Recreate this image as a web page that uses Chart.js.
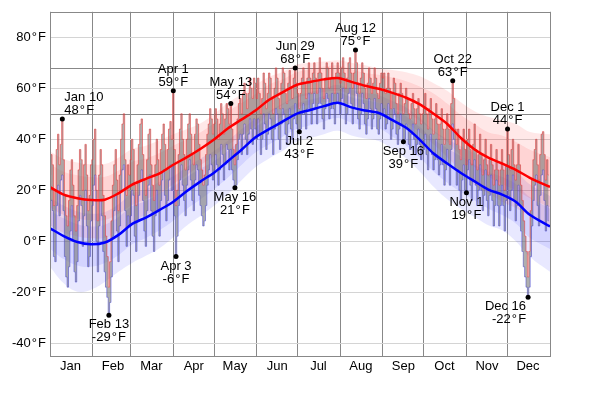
<!DOCTYPE html>
<html>
<head>
<meta charset="utf-8">
<script src="https://cdn.jsdelivr.net/npm/chart.js@4"></script>
<style>
  body { margin: 0; background: #fff; }
</style>
</head>
<body>
<canvas id="myChart" width="600" height="394"></canvas>
<script>
// month boundaries (day of year, Jan 1 = 0) and names
const monthStarts = [0, 31, 59, 90, 120, 151, 181, 212, 243, 273, 304, 334, 365];
const monthNames = ["Jan", "Feb", "Mar", "Apr", "May", "Jun", "Jul", "Aug", "Sep", "Oct", "Nov", "Dec"];
const yTicks = [-40, -20, 0, 20, 40, 60, 80];

// daily observed highs / lows (°F), one row per month
const dailyHigh = [
  26,34,30,14,20,36,42,30,38,48,32,18,10,6,16,28,32,22,10,4,14,28,36,32,20,30,38,26,12,18,30,
  32,40,44,20,8,26,36,30,18,10,2,-6,-18,-8,8,22,30,36,24,12,26,40,46,50,32,18,30,26,
  32,40,36,22,14,30,38,46,48,34,24,18,32,42,44,30,22,16,30,40,32,22,36,42,46,38,28,36,44,47,40,
  59,36,14,20,34,44,50,40,34,28,40,46,50,42,34,30,42,48,46,38,32,28,22,26,34,42,46,52,48,42,
  46,52,48,40,46,54,50,42,48,54,52,46,54,44,36,30,38,48,54,56,50,58,62,58,52,58,64,60,56,64,62,
  56,64,58,50,56,66,62,52,58,66,64,56,50,60,68,64,56,52,62,68,66,58,54,62,67,60,56,64,68,62,
  58,52,58,64,68,62,56,64,70,64,58,66,70,64,58,66,72,66,60,56,64,70,68,60,64,70,64,58,66,70,66,
  62,68,72,66,60,64,70,72,66,60,66,75,70,62,58,64,70,66,60,56,62,68,64,58,62,68,64,58,56,62,66,
  64,66,58,60,66,60,52,58,64,62,54,50,58,62,58,50,54,60,56,50,48,54,58,52,46,52,56,50,46,50,
  52,58,50,44,52,56,48,42,48,54,46,40,46,52,44,38,44,50,44,38,54,63,56,44,38,44,36,32,40,44,36,
  30,40,44,36,30,38,46,36,28,34,42,34,26,32,40,30,26,32,38,30,22,28,36,28,22,28,36,28,20,30,
  44,34,28,36,40,30,24,30,38,30,22,16,8,2,-4,-14,-4,12,24,32,36,40,30,24,34,42,43,34,24,32,26
];
const dailyLow = [
  6,16,12,-6,-8,14,22,10,24,26,12,-6,-14,-18,-10,4,14,0,-12,-16,-8,8,18,14,-2,10,20,6,-10,-6,8,
  14,22,26,0,-12,6,16,10,-4,-12,-18,-22,-29,-24,-14,2,12,18,4,-8,6,20,28,30,12,-2,10,6,
  10,20,18,2,-4,8,18,24,28,16,4,-2,12,22,26,12,2,-4,10,20,12,2,16,24,28,18,8,16,24,30,20,
  30,10,-6,2,14,24,30,22,16,10,22,28,32,24,16,12,24,30,28,18,14,10,6,8,14,22,28,34,30,24,
  28,34,30,22,28,38,34,24,30,38,36,28,36,28,24,21,22,32,40,42,34,42,46,40,34,42,48,44,38,48,44,
  40,48,42,34,40,50,46,36,42,50,48,40,34,44,52,50,40,36,46,52,50,42,38,46,52,44,40,48,54,46,
  44,43,44,50,54,50,44,52,58,52,46,54,58,52,46,54,60,54,48,44,52,58,56,48,52,58,52,46,54,58,54,
  50,56,60,54,46,50,58,60,54,46,52,62,58,48,44,50,58,54,46,42,48,56,52,44,48,56,52,44,42,48,54,
  50,52,44,46,54,48,40,44,52,50,42,38,44,50,46,39,40,46,44,38,36,42,46,40,34,38,44,38,32,36,
  36,42,34,28,36,42,34,28,32,40,32,26,30,38,30,22,28,36,30,22,36,46,40,28,22,28,20,16,24,30,20,
  19,28,32,22,16,24,32,22,14,20,30,20,12,18,28,16,10,18,26,16,6,14,24,14,6,14,22,14,4,16,
  26,18,12,20,26,16,8,14,22,14,4,-4,-10,-14,-18,-22,-18,-6,6,16,22,26,14,6,18,26,28,16,4,14,8
];

// normals, sampled every 10 days
const normDays = [0,10,20,30,40,50,60,70,80,90,100,110,120,130,140,150,160,170,180,190,200,210,220,230,240,250,260,270,280,290,300,310,320,330,340,350,365];
const avgHigh = [21.2,18.3,16.9,16.2,16.3,18.8,22.2,24.5,26.6,30,33,36.3,40,44.3,47.8,51.3,55.5,58.5,61.3,62.5,63.5,64,62.5,61,59.8,58.2,56.3,53.7,50,46,40.5,36,32.8,30.5,28,25,21.3];
const avgLow = [5.1,2,-0.3,-1.2,-0.5,2.5,6.8,9.3,12.3,15.5,19.7,23.5,27,31.5,36,40.8,44,47,50,51.5,53,54.3,52.5,51.3,50.3,47.5,44.5,39.8,34.4,30.5,26.8,23.5,20.3,18.3,15.5,10.5,5.8];

// percentile bands (°F)
const hi90 = [35.2,32.3,30.9,30.2,30.3,32.8,36.2,37.5,39.6,42,44,46.3,50,54.3,57.8,61.3,64.5,66.5,69.3,70,70.5,71,70,69,67.8,67.2,66.3,64.7,62,59,54.5,51,48.8,47.5,46,43,42];
const hi75 = [30.2,27.3,25.9,25.2,25.3,27.8,31.2,32.5,34.6,37.5,40,42.8,46.5,50.8,54.3,57.8,61.5,63.5,66.3,67.5,68.5,69,67.5,66,65.3,64.2,62.8,60.7,58,54,49.5,46,42.8,41.5,39,36,33];
const hi25 = [13.2,10.3,8.9,8.2,8.3,10.8,14.2,16.5,18.6,22.5,26,29.8,33.5,37.8,41.3,45.3,50,53.5,56.3,57.5,58.5,59,57.5,56,54.3,52.2,50.3,47.2,43,39,33.5,29,25.3,22.5,20,17,13.3];
const hi10 = [6.2,3.3,1.9,1.2,1.3,3.8,7.2,10.5,12.6,16.5,20,24.3,28,32.3,36.8,41.3,45.5,49,52.3,53.5,54.5,55,53.5,52,50.8,49.2,46.3,42.7,38,33,27.5,22,18.8,15.5,13,10,6.3];
const lo90 = [17.1,14,11.7,10.8,11.5,14.5,18.8,20.3,23.3,25.5,29.2,32.5,35.5,39.5,44,48,51,54,57,58.5,60,61.3,59.5,58.3,57.3,55,52.5,48.3,43.4,40,37.3,34.5,31.8,30.3,27.5,22.5,17.8];
const lo75 = [12.1,9,6.7,5.8,6.5,9.5,13.8,15.8,18.8,21.5,25.2,28.5,31.5,35.5,40,44.8,48,51,54,55.5,57,58.3,56.5,55.3,54.3,52,49,44.8,40,36.5,33.3,30,27.3,25.3,22.5,17.5,12.8];
const lo25 = [-2.9,-7,-9.5,-10,-8.5,-5.5,-1.2,1.3,4.3,8,12.7,16.5,20.5,25,30,34.8,38,41,44,45.5,47,48.3,46.5,45.3,44.3,41,37.5,32.8,27.4,23,19.3,16,12.8,10.3,7,1.5,-3];
const lo10 = [-10,-16.5,-19.8,-19,-16,-12,-8.5,-5.7,-2.7,1.5,6.2,10,14,18.5,24,29,32.5,35.5,39,40.5,42,43.3,41.5,40.3,39.3,36,32.5,27.3,21.4,16.5,12.8,9.5,6.3,4.3,0,-6,-12];

// labelled extremes
const annDays = [9, 43, 90, 92, 132, 135, 179, 182, 223, 258, 294, 304, 334, 349];
const annTemps = [48, -29, 59, -6, 54, 21, 68, 43, 75, 39, 63, 19, 44, -22];
const annDates = ["Jan 10", "Feb 13", "Apr 1", "Apr 3", "May 13", "May 16", "Jun 29", "Jul 2", "Aug 12", "Sep 16", "Oct 22", "Nov 1", "Dec 1", "Dec 16"];
const annAbove = [true, false, true, false, true, false, true, false, true, false, true, false, true, false];

const FONT = '"Liberation Sans", Arial, sans-serif';
const DEG = "\u200A°\u200AF";
Chart.defaults.font.family = FONT;
Chart.defaults.font.size = 13;
Chart.defaults.color = "#000";

const pts = (xs, ys) => ys.map((v, i) => ({x: xs[i], y: v}));
const days = dailyHigh.map((v, i) => i);

function band(data, color, fill, order) {
  return {
    type: "line", data: pts(normDays, data), borderWidth: 0, pointRadius: 0,
    tension: 0.4, fill: fill, backgroundColor: color, order: order
  };
}

// extra dark lines, frame and the labels
const extras = {
  id: "extras",
  beforeDatasetsDraw(chart) {
    const {ctx, chartArea: a, scales: {y}} = chart;
    ctx.save();
    ctx.strokeStyle = "#888";
    ctx.lineWidth = 1;
    [50, 68].forEach(v => {
      const py = Math.round(y.getPixelForValue(v)) + 0.5;
      ctx.beginPath(); ctx.moveTo(a.left, py); ctx.lineTo(a.right, py); ctx.stroke();
    });
    ctx.restore();
  },
  afterDatasetsDraw(chart) {
    const {ctx, chartArea: a, scales: {x, y}} = chart;
    ctx.save();
    ctx.strokeStyle = "#888";
    ctx.lineWidth = 1;
    ctx.strokeRect(Math.round(a.left) + 0.5, Math.round(a.top) + 0.5, Math.round(a.right - a.left), Math.round(a.bottom - a.top));
    ctx.font = "13px " + FONT;
    ctx.fillStyle = "#000";
    ctx.textBaseline = "alphabetic";
    annDays.forEach((d, i) => {
      const px = x.getPixelForValue(d), py = y.getPixelForValue(annTemps[i]);
      const lines = [annDates[i], annTemps[i] + DEG];
      const w = Math.max(...lines.map(t => ctx.measureText(t).width));
      let tx = px;
      ctx.textAlign = "center";
      if (px - w / 2 < a.left + 4) { ctx.textAlign = "left"; tx = px + 2; }
      else if (px + w / 2 > a.right - 4) { ctx.textAlign = "right"; tx = px - 2; }
      const b = annAbove[i] ? [py - 18, py - 5] : [py + 13, py + 26];
      ctx.fillText(lines[0], tx, b[0]);
      ctx.fillText(lines[1], tx, b[1]);
    });
    ctx.restore();
  }
};

new Chart("myChart", {
  type: "line",
  data: {
    datasets: [
      { type: "scatter", data: pts(annDays, annTemps), pointRadius: 2.5, pointBackgroundColor: "#000", pointBorderWidth: 0, order: 0 },
      { data: pts(normDays, avgHigh), borderColor: "#f00", borderWidth: 2.5, pointRadius: 0, tension: 0.3, fill: false, order: 1 },
      { data: pts(normDays, avgLow), borderColor: "#00f", borderWidth: 2.5, pointRadius: 0, tension: 0.3, fill: false, order: 1 },
      { data: pts(days, dailyHigh), stepped: "middle", borderColor: "rgba(230,60,60,0.6)", borderWidth: 1, pointRadius: 0,
        fill: "+1", backgroundColor: "rgba(110,110,110,0.55)", order: 2 },
      { data: pts(days, dailyLow), stepped: "middle", borderColor: "rgba(70,70,230,0.6)", borderWidth: 1, pointRadius: 0, fill: false, order: 2 },
      band(hi90, "rgba(255,0,0,0.09)", "+1", 3),
      band(hi10, "transparent", false, 3),
      band(hi75, "rgba(255,0,0,0.09)", "+1", 3),
      band(hi25, "transparent", false, 3),
      band(lo90, "rgba(0,0,255,0.09)", "+1", 4),
      band(lo10, "transparent", false, 4),
      band(lo75, "rgba(0,0,255,0.09)", "+1", 4),
      band(lo25, "transparent", false, 4)
    ]
  },
  options: {
    responsive: false,
    animation: false,
    events: [],
    layout: { padding: { top: 6, right: 50, left: 0, bottom: 0 } },
    plugins: { legend: { display: false }, tooltip: { enabled: false } },
    scales: {
      x: {
        type: "linear", min: 0, max: 365,
        afterBuildTicks: s => { s.ticks = monthStarts.map(v => ({value: v})); },
        afterFit: s => { s.height = 38; },
        ticks: { autoSkip: false, maxRotation: 0, labelOffset: 20.5, padding: 3,
                 callback: (v, i) => monthNames[i] || "" },
        grid: { color: "#888", drawTicks: false },
        border: { display: false }
      },
      y: {
        min: -45, max: 90,
        afterBuildTicks: s => { s.ticks = yTicks.map(v => ({value: v})); },
        afterFit: s => { s.width = 50; },
        ticks: { padding: 4, callback: v => v + DEG },
        grid: { color: "#d4d4d4", drawTicks: false },
        border: { display: false }
      }
    }
  },
  plugins: [extras]
});
</script>
</body>
</html>
